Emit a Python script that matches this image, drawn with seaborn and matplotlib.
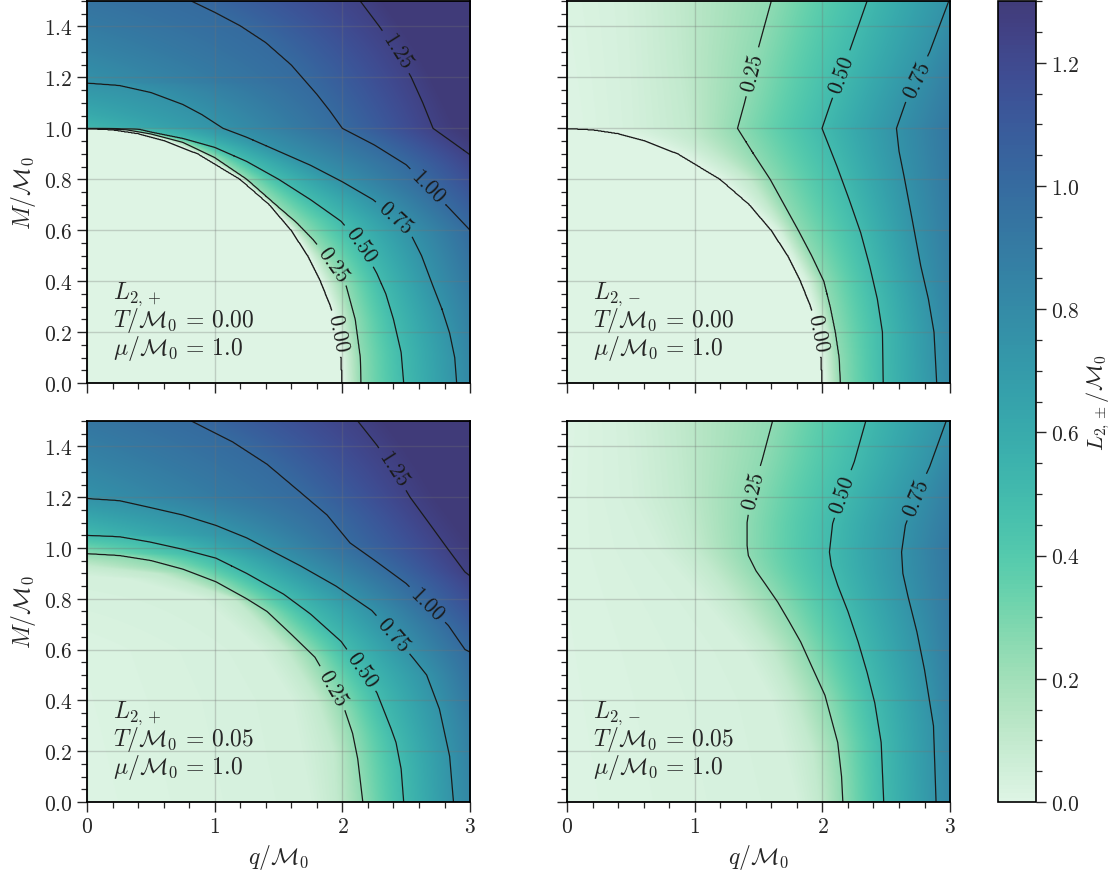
import numpy as np
import matplotlib
matplotlib.use("Agg")
import matplotlib.pyplot as plt
from matplotlib.colors import ListedColormap
from matplotlib.ticker import MultipleLocator
import seaborn as sns

# ---- valores: curvas de nivel (q, M) e bordas (M, L) ----
LEVELS = [0.0, 0.25, 0.50, 0.75, 1.00, 1.25]

# T = 0.00, L_{2,+}
CIRCLE_T0 = [(2.00, 0.00), (1.99, 0.10), (1.96, 0.20), (1.91, 0.30), (1.83, 0.40), (1.73, 0.50),
             (1.60, 0.60), (1.43, 0.70), (1.20, 0.80), (0.87, 0.90), (0.62, 0.95), (0.40, 0.98),
             (0.20, 0.995), (0.0, 1.0)]
TL_025 = [(2.145, 0.00), (2.14, 0.10), (2.10, 0.25), (2.03, 0.38), (1.92, 0.47), (1.77, 0.563),
          (1.64, 0.63), (1.50, 0.69), (1.25, 0.80), (1.00, 0.885), (0.75, 0.945), (0.50, 0.978),
          (0.30, 0.995), (0.0, 1.0)]
TL_050 = [(2.48, 0.00), (2.46, 0.12), (2.40, 0.25), (2.34, 0.35), (2.27, 0.43), (2.15, 0.54),
          (1.99, 0.635), (1.75, 0.72), (1.50, 0.80), (1.25, 0.87), (1.00, 0.925), (0.75, 0.96),
          (0.50, 0.985), (0.40, 0.997), (0.0, 1.0)]
TL_075 = [(2.895, 0.00), (2.88, 0.10), (2.84, 0.196), (2.78, 0.29), (2.71, 0.38), (2.62, 0.50),
          (2.53, 0.59), (2.40, 0.655), (2.24, 0.72), (2.00, 0.79), (1.75, 0.855), (1.50, 0.91),
          (1.25, 0.965), (1.066, 1.00), (0.90, 1.054), (0.75, 1.094), (0.50, 1.141), (0.25, 1.169),
          (0.0, 1.178)]
TL_100 = [(3.0, 0.60), (2.83, 0.69), (2.67, 0.77), (2.50, 0.857), (2.25, 0.935), (2.00, 1.00),
          (1.90, 1.07), (1.80, 1.134), (1.60, 1.249), (1.40, 1.337), (1.20, 1.403), (1.00, 1.456),
          (0.818, 1.50)]
TL_125 = [(3.0, 0.896), (2.85, 0.95), (2.71, 1.00), (2.63, 1.10), (2.54, 1.20), (2.43, 1.30),
          (2.29, 1.40), (2.14, 1.50)]
TL_LEFT = [(0.0, 0.0), (0.999, 0.0), (1.0, 0.52), (1.05, 0.60), (1.10, 0.66), (1.178, 0.75),
           (1.30, 0.84), (1.40, 0.90), (1.50, 0.95)]
TL_RIGHT = [(0.0, 0.81), (0.3, 0.88), (0.6, 1.00), (0.896, 1.25), (1.0, 1.33), (1.25, 1.42), (1.5, 1.50)]

# T = 0.00, L_{2,-}
TR_004 = [(2.03, 0.0), (2.00, 0.2), (1.88, 0.4), (1.66, 0.6), (1.28, 0.8), (0.98, 0.9), (0.78, 0.95),
          (0.55, 0.999), (0.50, 1.0), (0.45, 1.5)]
TR_010 = [(2.06, 0.0), (2.04, 0.2), (1.92, 0.4), (1.70, 0.6), (1.42, 0.8), (1.15, 0.9),
          (0.98, 0.97), (0.95, 1.0), (0.88, 1.25), (0.85, 1.5)]
TR_025 = [(2.14, 0.0), (2.13, 0.1), (2.10, 0.2), (2.06, 0.3), (2.01, 0.4), (1.915, 0.5), (1.81, 0.6),
          (1.70, 0.7), (1.59, 0.8), (1.46, 0.9), (1.335, 1.0), (1.39, 1.1), (1.49, 1.3), (1.60, 1.5)]
TR_050 = [(2.476, 0.0), (2.47, 0.2), (2.43, 0.33), (2.37, 0.46), (2.30, 0.59), (2.21, 0.72),
          (2.115, 0.85), (1.997, 1.0), (2.065, 1.1), (2.21, 1.3), (2.35, 1.5)]
TR_075 = [(2.895, 0.0), (2.874, 0.2), (2.83, 0.33), (2.77, 0.46), (2.70, 0.65), (2.64, 0.81),
          (2.60, 0.91), (2.58, 1.0), (2.65, 1.1), (2.84, 1.3), (2.99, 1.5)]
TR_LEFT = [(0.0, 0.0), (0.999, 0.0), (1.0, 0.005), (1.5, 0.015)]
TR_RIGHT = [(0.0, 0.81), (0.25, 0.85), (0.5, 0.88), (0.75, 0.91), (1.0, 0.93), (1.25, 0.86), (1.5, 0.755)]

# T = 0.05, L_{2,+}
BL_004 = [(1.75, 0.0), (1.60, 0.4), (1.35, 0.6), (0.90, 0.8), (0.30, 0.88), (0.0, 0.89)]
BL_010 = [(1.95, 0.0), (1.93, 0.2), (1.80, 0.4), (1.55, 0.6), (1.15, 0.8), (0.55, 0.9), (0.0, 0.93)]
BL_025 = [(2.16, 0.0), (2.12, 0.17), (2.08, 0.27), (2.02, 0.36), (1.90, 0.47), (1.785, 0.57),
          (1.60, 0.66), (1.41, 0.75), (1.25, 0.80), (1.01, 0.867), (0.75, 0.917), (0.50, 0.951),
          (0.25, 0.971), (0.0, 0.978)]
BL_050 = [(2.48, 0.0), (2.46, 0.13), (2.42, 0.234), (2.38, 0.29), (2.27, 0.43), (2.15, 0.52),
          (1.99, 0.632), (1.75, 0.74), (1.54, 0.818), (1.25, 0.90), (1.01, 0.96), (0.75, 0.995),
          (0.49, 1.024), (0.25, 1.045), (0.0, 1.05)]
BL_075 = [(2.87, 0.0), (2.84, 0.18), (2.76, 0.366), (2.66, 0.50), (2.56, 0.563), (2.40, 0.66),
          (2.23, 0.754), (1.95, 0.85), (1.67, 0.93), (1.25, 1.04), (1.01, 1.089), (0.75, 1.13),
          (0.49, 1.16), (0.25, 1.187), (0.0, 1.195)]
BL_100 = [(3.0, 0.59), (2.96, 0.60), (2.83, 0.695), (2.50, 0.86), (2.27, 0.945), (2.06, 1.02),
          (1.88, 1.13), (1.67, 1.22), (1.41, 1.33), (1.14, 1.418), (0.818, 1.50)]
BL_125 = [(3.0, 0.89), (2.96, 0.905), (2.82, 1.00), (2.69, 1.09), (2.53, 1.20), (2.40, 1.31),
          (2.27, 1.405), (2.12, 1.50)]
BL_LEFT = [(0.0, 0.01), (0.6, 0.015), (0.89, 0.04), (0.93, 0.10), (0.978, 0.25), (1.05, 0.50),
           (1.195, 0.75), (1.35, 0.85), (1.5, 0.93)]
BL_RIGHT = [(0.0, 0.82), (0.3, 0.88), (0.59, 1.00), (0.89, 1.25), (1.2, 1.37), (1.5, 1.46)]

# T = 0.05, L_{2,-}
BR_004 = [(1.80, 0.0), (1.60, 0.4), (1.38, 0.6), (1.05, 0.8), (0.70, 1.0), (0.50, 1.2), (0.45, 1.5)]
BR_010 = [(1.97, 0.0), (1.92, 0.2), (1.78, 0.4), (1.60, 0.6), (1.30, 0.8), (1.00, 1.0), (0.90, 1.2), (0.85, 1.5)]
BR_025 = [(2.16, 0.0), (2.15, 0.1), (2.12, 0.234), (2.02, 0.42), (1.92, 0.53), (1.83, 0.63),
          (1.74, 0.71), (1.65, 0.787), (1.55, 0.86), (1.48, 0.91), (1.42, 0.97), (1.41, 1.01),
          (1.41, 1.10), (1.44, 1.20), (1.53, 1.35), (1.61, 1.5)]
BR_050 = [(2.48, 0.0), (2.46, 0.234), (2.41, 0.39), (2.35, 0.51), (2.28, 0.63), (2.20, 0.75),
          (2.12, 0.853), (2.07, 0.93), (2.055, 0.984), (2.08, 1.096), (2.16, 1.22), (2.25, 1.34),
          (2.34, 1.5)]
BR_075 = [(2.89, 0.0), (2.87, 0.30), (2.80, 0.52), (2.74, 0.67), (2.67, 0.81), (2.63, 0.90),
          (2.62, 0.984), (2.65, 1.09), (2.74, 1.21), (2.84, 1.32), (2.97, 1.5)]
BR_LEFT = [(0.0, 0.01), (1.0, 0.015), (1.5, 0.01)]
BR_RIGHT = [(0.0, 0.81), (0.25, 0.85), (0.5, 0.88), (0.75, 0.91), (1.0, 0.93), (1.25, 0.87), (1.5, 0.77)]

BRANCH = ["+", "-", "+", "-"]
TEMPS = ["0.00", "0.00", "0.05", "0.05"]
MU = "1.0"


def build_field(curves, left, right):
    """Monta o campo L(q, M) interpolando linha a linha entre as curvas lidas."""
    qq = np.linspace(0, 3, 601)
    mm = np.linspace(0, 1.5, 751)
    lm, lv = np.array(left).T
    rm, rv = np.array(right).T
    Z = np.empty((len(mm), len(qq)))
    for i, m in enumerate(mm):
        kq, kv = [0.0], [np.interp(m, lm, lv)]
        for lev, pts in curves:
            cq, cm = np.array(pts).T
            o = np.argsort(cm)
            if cm.min() <= m <= cm.max():
                qc = np.interp(m, cm[o], cq[o])
                if 0 < qc < 3:
                    kq.append(qc)
                    kv.append(lev)
        kq.append(3.0)
        kv.append(np.interp(m, rm, rv))
        o = np.argsort(kq)
        Z[i] = np.interp(qq, np.array(kq)[o], np.array(kv)[o])
    return qq, mm, Z


panels = [
    ([(0.0, CIRCLE_T0), (0.25, TL_025), (0.50, TL_050), (0.75, TL_075), (1.00, TL_100), (1.25, TL_125)],
     TL_LEFT, TL_RIGHT),
    ([(0.0, CIRCLE_T0), (0.04, TR_004), (0.10, TR_010), (0.25, TR_025), (0.50, TR_050), (0.75, TR_075)],
     TR_LEFT, TR_RIGHT),
    ([(0.04, BL_004), (0.10, BL_010), (0.25, BL_025), (0.50, BL_050), (0.75, BL_075), (1.00, BL_100),
      (1.25, BL_125)], BL_LEFT, BL_RIGHT),
    ([(0.04, BR_004), (0.10, BR_010), (0.25, BR_025), (0.50, BR_050), (0.75, BR_075)], BR_LEFT, BR_RIGHT),
]

# posicoes dos rotulos das curvas (q, M)
label_pos = [
    [(1.975, 0.196), (1.915, 0.465), (2.145, 0.543), (2.41, 0.645), (2.68, 0.775), (2.425, 1.302)],
    [(1.984, 0.196), (1.453, 1.222), (2.149, 1.213), (2.743, 1.192)],
    [(1.93, 0.45), (2.15, 0.52), (2.40, 0.66), (2.67, 0.78), (2.40, 1.313)],
    [(1.457, 1.228), (2.152, 1.214), (2.737, 1.201)],
]

sns.set_theme(style="ticks")
plt.rcParams.update({
    "font.family": "serif",
    "font.serif": ["cmr10"],
    "mathtext.fontset": "cm",
    "axes.formatter.use_mathtext": True,
    "axes.unicode_minus": False,
})

cmap = ListedColormap(sns.color_palette("mako_r", 256)[:184])

fig = plt.figure(figsize=(11.2, 8.79), dpi=100)
fig.patch.set_facecolor("white")
rects = [
    [0.0777, 0.5631, 0.3420, 0.4346],
    [0.5063, 0.5631, 0.3420, 0.4346],
    [0.0777, 0.0865, 0.3420, 0.4334],
    [0.5063, 0.0865, 0.3420, 0.4334],
]

TICK_FS = 15.5
LAB_FS = 17

im = None
for k, (curves, left, right) in enumerate(panels):
    ax = fig.add_axes(rects[k])
    qq, mm, Z = build_field(curves, left, right)
    im = ax.imshow(Z, origin="lower", extent=[0, 3, 0, 1.5], aspect="auto",
                   cmap=cmap, vmin=0, vmax=1.3, interpolation="bilinear", zorder=0)
    cs = ax.contour(qq, mm, Z, levels=LEVELS, colors="k", linewidths=0.9)
    ax.clabel(cs, fmt="%.2f", fontsize=TICK_FS, inline=True, inline_spacing=6,
              manual=label_pos[k])
    ax.set_xlim(0, 3)
    ax.set_ylim(0, 1.5)
    ax.xaxis.set_major_locator(MultipleLocator(1))
    ax.xaxis.set_minor_locator(MultipleLocator(0.2))
    ax.yaxis.set_major_locator(MultipleLocator(0.2))
    ax.yaxis.set_minor_locator(MultipleLocator(0.05))
    ax.tick_params(which="major", direction="out", length=7, width=1.0, labelsize=TICK_FS)
    ax.tick_params(which="minor", direction="out", length=4, width=0.9)
    ax.grid(True, which="major", color="0.45", alpha=0.3, lw=1.0)
    for s in ax.spines.values():
        s.set_color("black")
        s.set_linewidth(1.3)
    if k < 2:
        ax.tick_params(labelbottom=False)
    else:
        ax.set_xlabel(r"$q/\mathcal{M}_0$", fontsize=LAB_FS)
    if k % 2 == 1:
        ax.tick_params(labelleft=False)
    else:
        ax.set_ylabel(r"$M/\mathcal{M}_0$", fontsize=LAB_FS)
    note = "\n".join([rf"$L_{{2,{BRANCH[k]}}}$",
                      rf"$T/\mathcal{{M}}_0\,=\,{TEMPS[k]}$",
                      rf"$\mu/\mathcal{{M}}_0\,=\,{MU}$"])
    ax.text(0.067, 0.055, note, transform=ax.transAxes, fontsize=LAB_FS,
            va="bottom", ha="left", linespacing=0.93)

cax = fig.add_axes([0.891, 0.0865, 0.034, 0.911])
cb = fig.colorbar(im, cax=cax)
cb.outline.set_linewidth(1.2)
cb.outline.set_edgecolor("black")
cax.yaxis.set_major_locator(MultipleLocator(0.2))
cax.yaxis.set_minor_locator(MultipleLocator(0.05))
cax.tick_params(which="major", direction="out", length=7, width=1.0, labelsize=TICK_FS)
cax.tick_params(which="minor", direction="out", length=4, width=0.9)
cax.set_ylabel(r"$L_{2,\pm}/\mathcal{M}_0$", fontsize=LAB_FS - 1)

fig.savefig("out.png", dpi=100)
plt.close()
